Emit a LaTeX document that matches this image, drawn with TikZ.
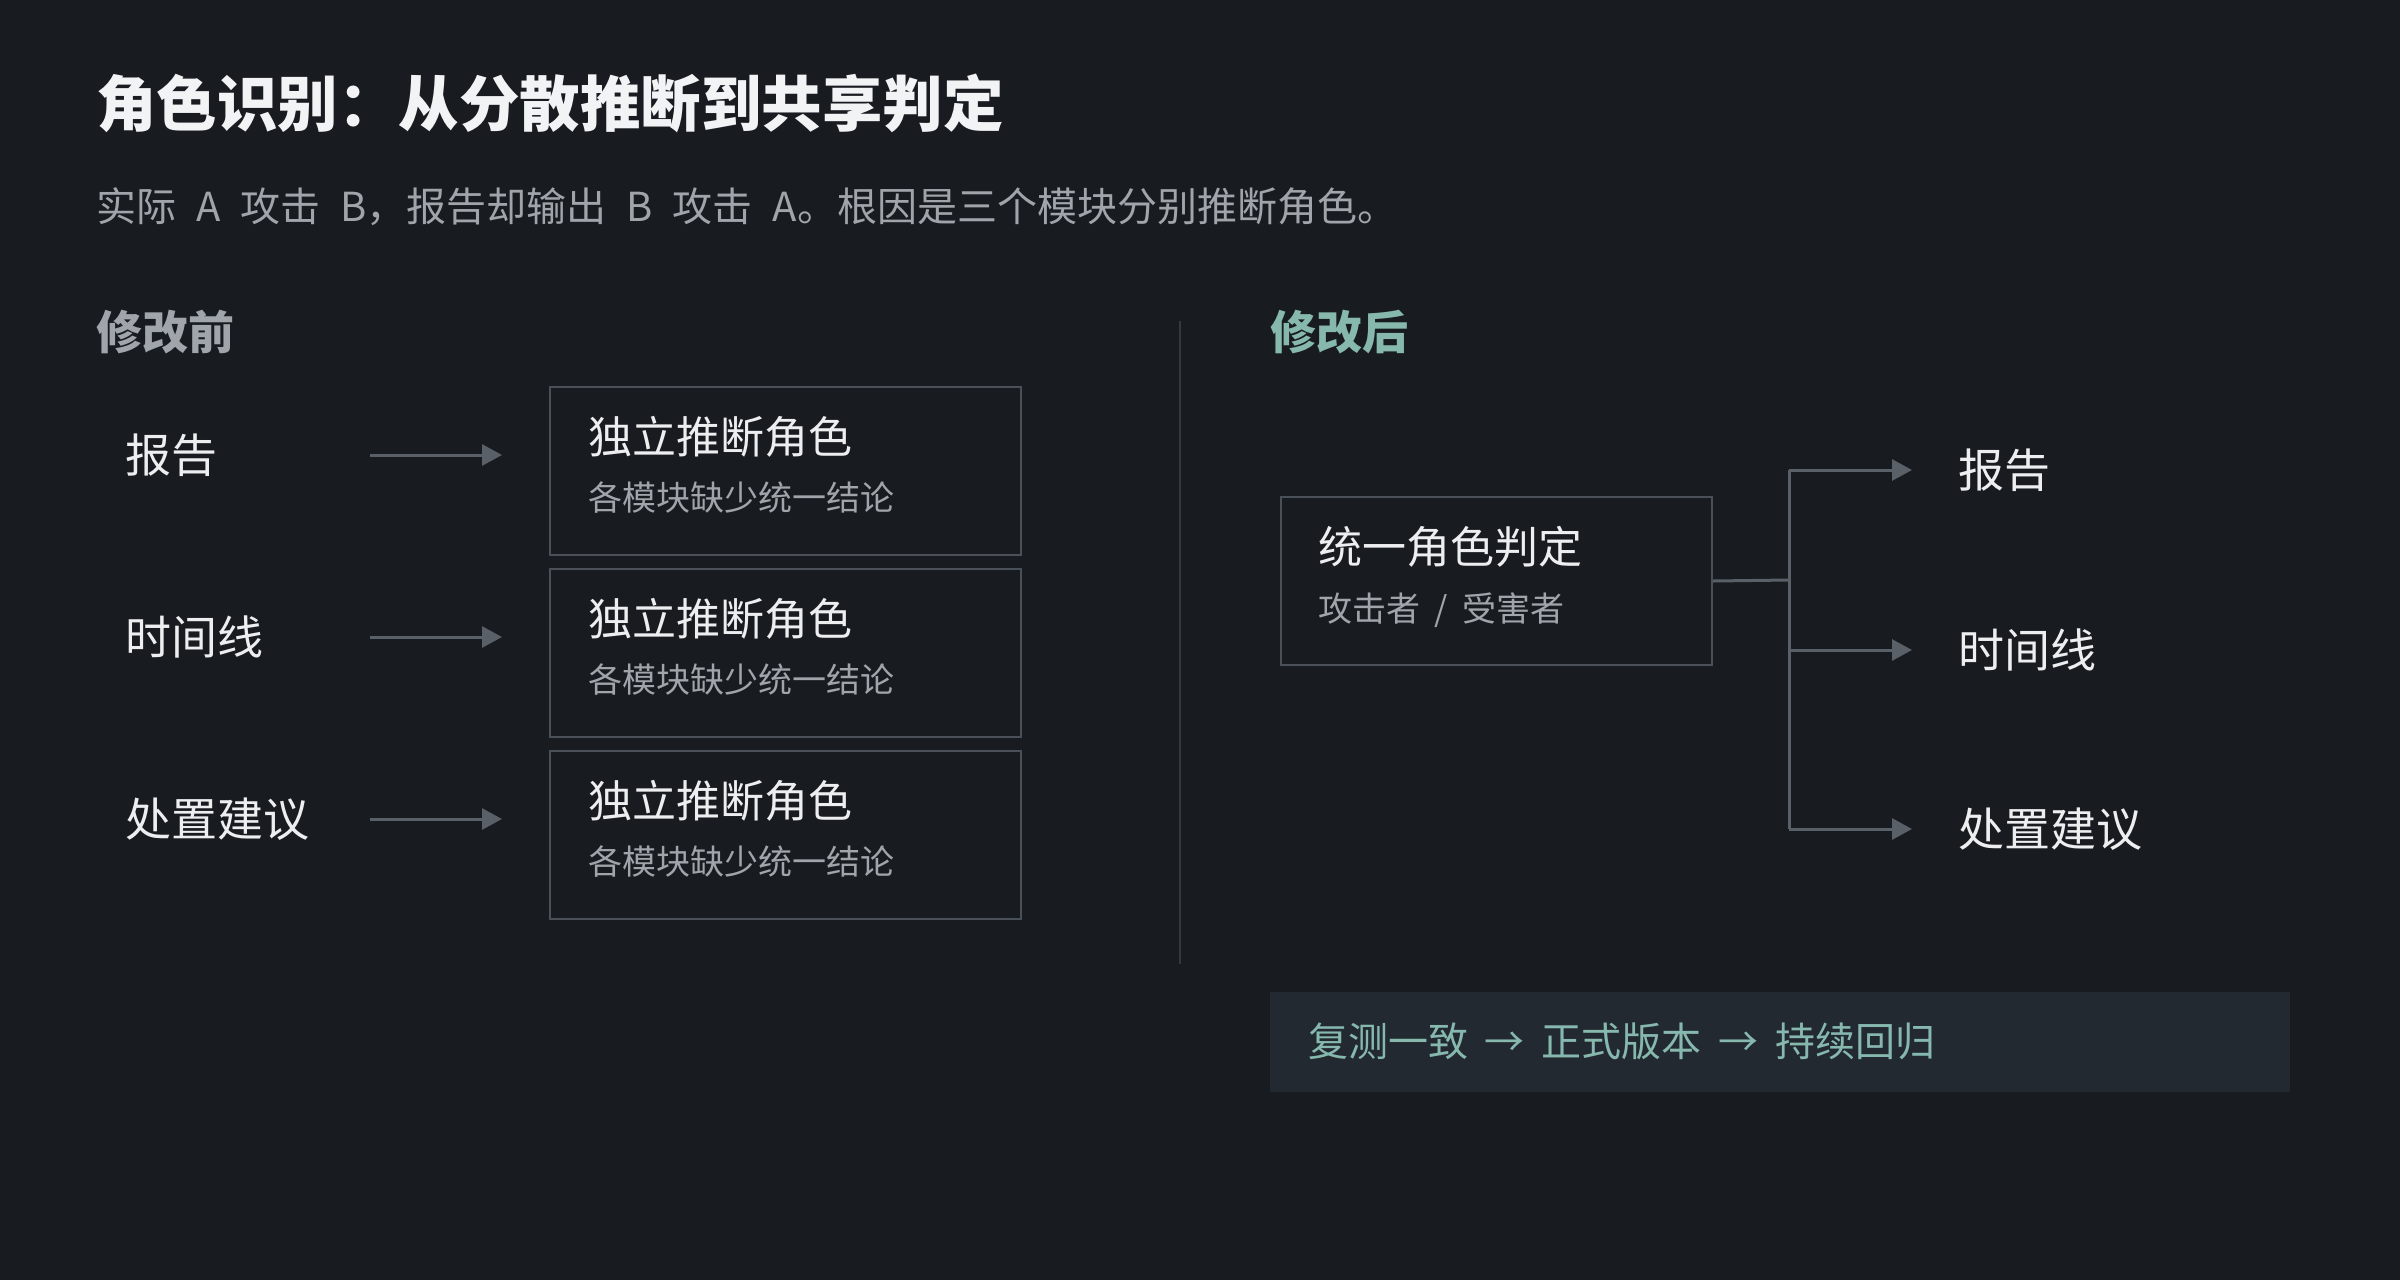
\documentclass[tikz,border=0pt]{standalone}
\usepackage{fontspec}
\setmainfont{Noto Sans CJK SC}
\usetikzlibrary{arrows.meta}
\definecolor{bg}{HTML}{181B20}
\definecolor{titlec}{HTML}{F1F3F5}
\definecolor{grayt}{HTML}{A0A5AB}
\definecolor{tealt}{HTML}{86B8AE}
\definecolor{whitet}{HTML}{ECEEF0}
\definecolor{boxline}{HTML}{4A5057}
\definecolor{arrowc}{HTML}{5A6067}
\definecolor{divc}{HTML}{34393F}
\definecolor{barfill}{HTML}{232930}
\newcommand{\fs}[1]{\fontsize{#1}{#1}\selectfont}
\newcommand{\wsp}[1]{\spaceskip #1\relax}
\tikzset{
  txt/.style={anchor=base west, inner sep=0pt, outer sep=0pt},
  modbox/.style={draw=boxline, line width=2pt, minimum width=471pt, minimum height=168pt, anchor=north west, inner sep=0pt},
  conn/.style={draw=arrowc, line width=3pt},
  arr/.style={conn, -{Triangle[length=20pt,width=21pt]}},
  lbl/.style={txt, text=whitet, font=\fs{46}},
  boxtitle/.style={txt, text=whitet, font=\fs{44}},
  boxsub/.style={txt, text=grayt, font=\fs{34}},
}
\begin{document}
\begin{tikzpicture}[x=1pt,y=-1pt]
\fill[bg] (0,0) rectangle (2400,1280);
\useasboundingbox (0,0) rectangle (2400,1280);

% title and subtitle
\node[txt, text=titlec, font=\fs{60.5}\bfseries] (title) at (96,126) {角色识别：从分散推断到共享判定};
\node[txt, text=grayt, font=\fs{40}] (subtitle) at (96,221) {\wsp{0.5em}实际 A 攻击 B，报告却输出 B 攻击 A。根因是三个模块分别推断角色。};

% headings
\node[txt, text=grayt, font=\fs{46}\bfseries] (hbefore) at (96,349) {修改前};
\node[txt, text=tealt, font=\fs{46}\bfseries] (hafter) at (1270,349) {修改后};

% divider
\coordinate (dtop) at (1180,321);
\coordinate (dbot) at (1180,964);
\draw[divc, line width=2pt] (dtop) -- (dbot);

% left side: labels
\node[lbl] (l1) at (125,472.5) {报告};
\node[lbl] (l2) at (125,654.5) {时间线};
\node[lbl] (l3) at (125,836.5) {处置建议};

% left boxes
\node[modbox] (b1) at (549,386) {};
\node[modbox] (b2) at (549,568) {};
\node[modbox] (b3) at (549,750) {};
\foreach \i/\y in {1/386,2/568,3/750}{
  \node[boxtitle] (bt\i) at (588,\y+67) {独立推断角色};
  \node[boxsub] (bs\i) at (588,\y+124) {各模块缺少统一结论};
}

% left arrows
\coordinate (as1) at (370,455); \coordinate (ae1) at (502,455);
\coordinate (as2) at (370,637); \coordinate (ae2) at (502,637);
\coordinate (as3) at (370,819); \coordinate (ae3) at (502,819);
\draw[arr] (as1) -- (ae1);
\draw[arr] (as2) -- (ae2);
\draw[arr] (as3) -- (ae3);

% right side: unified box
\node[modbox, minimum width=431pt] (ub) at (1280,496) {};
\node[boxtitle] (ubt) at (1318,563) {统一角色判定};
\node[boxsub] (ubs) at (1318,621) {\wsp{0.43em}攻击者 / 受害者};

% tree connector
\coordinate (jm) at (1789,580);
\coordinate (jt) at (1789,470);
\coordinate (jb) at (1789,829);
\coordinate (jc) at (1789,650);
\coordinate (re1) at (1912,470);
\coordinate (re2) at (1912,650);
\coordinate (re3) at (1912,829);
\draw[conn] (ub.east) -- (jm);
\draw[conn] (jt) -- (jb);
\draw[arr] (jt) -- (re1);
\draw[arr] (jc) -- (re2);
\draw[arr] (jb) -- (re3);

% right labels
\node[lbl] (r1) at (1958,487.5) {报告};
\node[lbl] (r2) at (1958,667.5) {时间线};
\node[lbl] (r3) at (1958,846.5) {处置建议};

% bottom bar
\node[fill=barfill, draw=none, minimum width=1020pt, minimum height=100pt, anchor=north west, inner sep=0pt] (bar) at (1270,992) {};
\node[txt, text=tealt, font=\fs{40}] (bartext) at (1308,1056) {\wsp{0.42em}复测一致 → 正式版本 → 持续回归};
\end{tikzpicture}
\end{document}
